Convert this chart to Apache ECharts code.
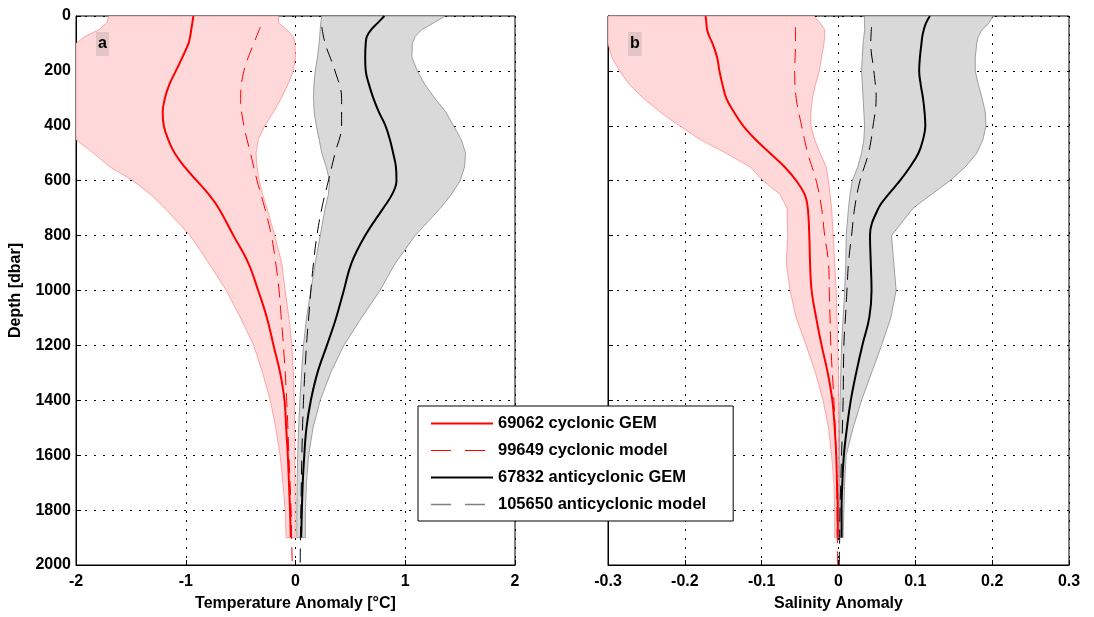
<!DOCTYPE html>
<html>
<head>
<meta charset="utf-8">
<script src="https://cdn.jsdelivr.net/npm/echarts@6/dist/echarts.min.js"></script>
<style>
  html, body { margin: 0; padding: 0; background: #fff; }
  #chart { width: 1094px; height: 617px; }
</style>
</head>
<body>
<div id="chart"></div>
<script>
// depth levels (dbar) of the GEM profiles and their spread bands
const depth = [0, 25, 50, 75, 100, 150, 200, 250, 300, 350, 400, 450, 500, 550, 600, 650, 700,
  800, 900, 1000, 1100, 1200, 1300, 1400, 1500, 1600, 1700, 1800, 1900];
// depth levels of the model profiles
const modelDepth = [40, 100, 200, 300, 400, 500, 600, 700, 800, 900, 1000, 1100, 1200, 1400, 1600, 1800, 1900, 2000];

// temperature anomaly [°C]
const cycGemT = [-0.93, -0.94, -0.95, -0.96, -0.975, -1.03, -1.09, -1.15, -1.19, -1.21, -1.20, -1.16, -1.10, -1.01, -0.90, -0.79, -0.70,
  -0.565, -0.43, -0.34, -0.26, -0.20, -0.14, -0.10, -0.085, -0.07, -0.06, -0.05, -0.043];
const cycBandLoT = [-1.70, -1.72, -1.79, -1.92, -2.0, -2.0, -2.0, -2.0, -2.0, -2.0, -2.0, -2.0, -1.84, -1.69, -1.48, -1.32, -1.19,
  -0.96, -0.79, -0.63, -0.50, -0.38, -0.30, -0.23, -0.18, -0.14, -0.115, -0.094, -0.085];
const cycBandHiT = [-0.155, -0.155, -0.08, -0.02, -0.005, 0.0, -0.02, -0.07, -0.13, -0.20, -0.28, -0.34, -0.36, -0.35, -0.33, -0.30, -0.26,
  -0.19, -0.125, -0.094, -0.06, -0.033, -0.02, -0.012, -0.008, -0.006, -0.004, -0.003, -0.003];
const antGemT = [0.81, 0.75, 0.69, 0.65, 0.64, 0.635, 0.64, 0.67, 0.71, 0.76, 0.82, 0.86, 0.89, 0.915, 0.92, 0.88, 0.80,
  0.635, 0.51, 0.44, 0.37, 0.286, 0.20, 0.14, 0.10, 0.08, 0.066, 0.058, 0.052];
const antBandLoT = [0.24, 0.23, 0.225, 0.22, 0.215, 0.20, 0.18, 0.168, 0.164, 0.17, 0.19, 0.215, 0.24, 0.28, 0.31, 0.30, 0.27,
  0.225, 0.18, 0.14, 0.10, 0.073, 0.055, 0.04, 0.028, 0.02, 0.015, 0.012, 0.012];
const antBandHiT = [1.365, 1.26, 1.15, 1.09, 1.065, 1.06, 1.11, 1.18, 1.27, 1.37, 1.44, 1.51, 1.55, 1.54, 1.50, 1.42, 1.32,
  1.09, 0.91, 0.77, 0.60, 0.44, 0.32, 0.225, 0.16, 0.12, 0.10, 0.09, 0.09];
const cycModT = [-0.32, -0.38, -0.47, -0.50, -0.47, -0.41, -0.35, -0.28, -0.22, -0.18, -0.15, -0.13, -0.11, -0.08, -0.06, -0.04, -0.035, -0.03];
const antModT = [0.24, 0.27, 0.36, 0.42, 0.42, 0.36, 0.30, 0.24, 0.195, 0.164, 0.14, 0.12, 0.10, 0.073, 0.058, 0.049, 0.045, 0.043];

// salinity anomaly
const cycGemS = [-0.173, -0.172, -0.171, -0.168, -0.164, -0.158, -0.155, -0.151, -0.146, -0.136, -0.124, -0.108, -0.089, -0.070, -0.055, -0.044, -0.040,
  -0.038, -0.037, -0.035, -0.029, -0.022, -0.014, -0.008, -0.005, -0.003, -0.002, -0.001, -0.001];
const cycBandLoS = [-0.30, -0.30, -0.30, -0.30, -0.30, -0.295, -0.285, -0.272, -0.254, -0.232, -0.207, -0.180, -0.146, -0.115, -0.098, -0.076, -0.067,
  -0.066, -0.068, -0.063, -0.055, -0.042, -0.030, -0.020, -0.013, -0.009, -0.006, -0.005, -0.005];
const cycBandHiS = [-0.032, -0.024, -0.018, -0.018, -0.019, -0.022, -0.025, -0.030, -0.034, -0.036, -0.036, -0.031, -0.024, -0.016, -0.013, -0.011, -0.009,
  -0.007, -0.005, -0.003, -0.002, -0.001, 0.0, 0.0, 0.0, 0.0, 0.0, 0.0, 0.0];
const antGemS = [0.119, 0.114, 0.111, 0.109, 0.108, 0.106, 0.105, 0.107, 0.110, 0.112, 0.113, 0.110, 0.104, 0.093, 0.080, 0.065, 0.052,
  0.041, 0.042, 0.043, 0.040, 0.031, 0.023, 0.016, 0.011, 0.007, 0.005, 0.004, 0.004];
const antBandLoS = [0.034, 0.034, 0.034, 0.033, 0.032, 0.031, 0.030, 0.031, 0.032, 0.033, 0.034, 0.033, 0.030, 0.025, 0.018, 0.015, 0.013,
  0.010, 0.0095, 0.008, 0.006, 0.004, 0.003, 0.002, 0.0015, 0.001, 0.001, 0.001, 0.001];
const antBandHiS = [0.201, 0.196, 0.187, 0.182, 0.180, 0.178, 0.178, 0.182, 0.187, 0.191, 0.192, 0.188, 0.180, 0.165, 0.145, 0.121, 0.097,
  0.069, 0.072, 0.075, 0.068, 0.056, 0.043, 0.030, 0.019, 0.010, 0.008, 0.007, 0.006];
const cycModS = [-0.056, -0.056, -0.057, -0.055, -0.048, -0.040, -0.029, -0.022, -0.018, -0.013, -0.012, -0.011, -0.010, -0.006, -0.003, -0.002, -0.0015, -0.001];
const antModS = [0.043, 0.042, 0.046, 0.049, 0.045, 0.039, 0.028, 0.021, 0.017, 0.013, 0.011, 0.009, 0.007, 0.006, 0.004, 0.002, 0.0015, 0.001];

const names = ['69062 cyclonic GEM', '99649 cyclonic model', '67832 anticyclonic GEM', '105650 anticyclonic model'];
const depthTicks = { min: 0, max: 2000, interval: 200 };

const font = 'Liberation Sans, Arial, sans-serif';
const dotted = { color: '#000', width: 1, type: [2, 7] };

// shaded spread between two profiles, drawn as one polygon
function band(lo, hi, fill, stroke, idx) {
  const pts = depth.map((d, i) => [lo[i], d]).concat(depth.map((d, i) => [hi[i], d]).reverse());
  return {
    type: 'custom', xAxisIndex: idx, yAxisIndex: idx, silent: true, clip: true, z: 1,
    data: pts,
    renderItem(params, api) {
      if (params.dataIndex !== 0) return null;
      return {
        type: 'polygon',
        shape: { points: pts.map(p => api.coord(p)) },
        style: { fill: fill, stroke: stroke, lineWidth: 0.8 }
      };
    }
  };
}

function profile(name, depths, vals, color, width, dash, idx) {
  return {
    name: name, type: 'line', xAxisIndex: idx, yAxisIndex: idx, z: 3,
    data: depths.map((d, i) => [vals[i], d]),
    smooth: 0.4, symbol: 'none', silent: true,
    lineStyle: { color: color, width: width, type: dash },
    itemStyle: { color: color }
  };
}

const labelStyle = { fontFamily: font, fontWeight: 'bold', fontSize: 16, color: '#000' };

function xAxis(idx, min, max, interval, title, fmt) {
  return {
    type: 'value', gridIndex: idx, min: min, max: max, interval: interval,
    name: title, nameLocation: 'middle', nameGap: 31,
    nameTextStyle: labelStyle,
    axisLine: { onZero: false, lineStyle: { color: '#000', width: 1 } },
    axisTick: { inside: true, length: 5, lineStyle: { color: '#000' } },
    axisLabel: Object.assign({ margin: 9, formatter: fmt }, labelStyle),
    splitLine: { show: true, lineStyle: dotted }
  };
}

function yAxis(idx, showLabels) {
  return Object.assign({
    type: 'value', gridIndex: idx, inverse: true,
    name: showLabels ? 'Depth [dbar]' : '', nameLocation: 'middle', nameGap: 52,
    nameTextStyle: labelStyle,
    axisLine: { onZero: false, lineStyle: { color: '#000', width: 1 } },
    axisTick: { inside: true, length: 5, lineStyle: { color: '#000' } },
    axisLabel: Object.assign({ show: showLabels, margin: 5, formatter: v => String(v) }, labelStyle),
    splitLine: { show: true, lineStyle: dotted }
  }, depthTicks);
}

const chart = echarts.init(document.getElementById('chart'));
chart.setOption({
  animation: false,
  backgroundColor: '#fff',
  grid: [
    { left: 76, top: 16, width: 439, height: 549, show: true, borderColor: '#000', borderWidth: 1 },
    { left: 608, top: 16, width: 461, height: 549, show: true, borderColor: '#000', borderWidth: 1 }
  ],
  xAxis: [
    xAxis(0, -2, 2, 1, 'Temperature Anomaly [°C]', v => String(v)),
    xAxis(1, -0.3, 0.3, 0.1, 'Salinity Anomaly', v => (Math.abs(v) < 1e-9 ? '0' : v.toFixed(1)))
  ],
  yAxis: [yAxis(0, true), yAxis(1, false)],
  legend: {
    left: 418, top: 406, orient: 'vertical',
    backgroundColor: '#fff', borderColor: '#000', borderWidth: 1,
    padding: [9, 27, 8, 12], itemGap: 10, itemWidth: 62, itemHeight: 14,
    textStyle: Object.assign({}, labelStyle, { fontSize: 16.5 }),
    itemStyle: { opacity: 0 },
    data: [
      { name: names[0] },
      { name: names[1], lineStyle: { type: [20, 14], width: 1.2 } },
      { name: names[2] },
      { name: names[3], lineStyle: { color: '#808080', type: [20, 14], width: 1.5 } }
    ],
    selectedMode: false, z: 10
  },
  graphic: [
    { type: 'text', x: 96, y: 32, z: 5, style: { text: 'a', font: 'bold 16px ' + font, fill: '#000', backgroundColor: 'rgba(128,128,128,0.22)', padding: [4, 2, 4, 2] } },
    { type: 'text', x: 628, y: 32, z: 5, style: { text: 'b', font: 'bold 16px ' + font, fill: '#000', backgroundColor: 'rgba(128,128,128,0.22)', padding: [4, 2, 4, 2] } }
  ],
  series: [
    band(cycBandLoT, cycBandHiT, '#ffd9d9', '#ff8f8f', 0),
    band(antBandLoT, antBandHiT, '#d9d9d9', '#8c8c8c', 0),
    profile(names[0], depth, cycGemT, '#ff0000', 2, 'solid', 0),
    profile(names[1], modelDepth, cycModT, '#ff0000', 1, [14, 8], 0),
    profile(names[2], depth, antGemT, '#000000', 2, 'solid', 0),
    profile(names[3], modelDepth, antModT, '#000000', 1, [14, 8], 0),
    band(cycBandLoS, cycBandHiS, '#ffd9d9', '#ff8f8f', 1),
    band(antBandLoS, antBandHiS, '#d9d9d9', '#8c8c8c', 1),
    profile(names[0], depth, cycGemS, '#ff0000', 2, 'solid', 1),
    profile(names[1], modelDepth, cycModS, '#ff0000', 1, [14, 8], 1),
    profile(names[2], depth, antGemS, '#000000', 2, 'solid', 1),
    profile(names[3], modelDepth, antModS, '#000000', 1, [14, 8], 1)
  ]
});
</script>
</body>
</html>
